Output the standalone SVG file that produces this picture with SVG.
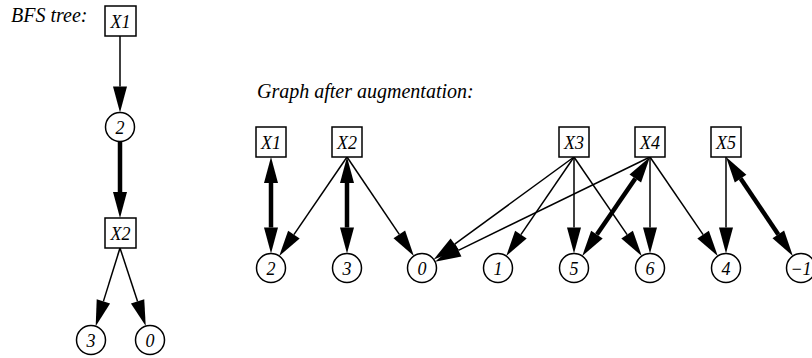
<svg xmlns="http://www.w3.org/2000/svg" width="812" height="358" viewBox="0 0 812 358">
<style>
.box{fill:#fff;stroke:#000;stroke-width:1.5}
.cir{fill:#fff;stroke:#000;stroke-width:1.5}
.lbl{font-family:"Liberation Serif","Times New Roman",Times,serif;font-style:italic;font-size:18px;text-anchor:middle}
.title{font-family:"Liberation Serif","Times New Roman",Times,serif;font-style:italic;font-size:20px}
.thin{stroke:#000;stroke-width:1.5;fill:none;marker-end:url(#ah)}
.thick{stroke:#000;stroke-width:4.5;fill:none;marker-end:url(#ah)}
.both{marker-start:url(#ah)}
</style>
<defs>
<marker id="ah" markerUnits="userSpaceOnUse" markerWidth="27" markerHeight="15" refX="0" refY="7" orient="auto-start-reverse" viewBox="0 0 27 14" overflow="visible">
<path d="M0,0 L26,7 L0,14 Z" fill="#000"/>
</marker>
</defs>
<text class="title" x="11" y="22">BFS tree:</text>
<text class="title" x="257" y="98">Graph after augmentation:</text>
<g id="connectors">
<line class="thin" x1="120" y1="36" x2="120" y2="86.5"/>
<line class="thick" x1="120" y1="141.5" x2="120" y2="192"/>
<line class="thin" x1="120" y1="248" x2="103.4" y2="301.4"/>
<line class="thin" x1="120" y1="248" x2="137.6" y2="301.4"/>
<line class="thick both" x1="271" y1="183" x2="271" y2="227.5"/>
<line class="thin" x1="347" y1="157" x2="293.9" y2="234.6"/>
<line class="thick both" x1="347" y1="183" x2="347" y2="227.5"/>
<line class="thin" x1="347" y1="157" x2="399.3" y2="234.4"/>
<line class="thin" x1="574" y1="157" x2="454.7" y2="244.1"/>
<line class="thin" x1="574" y1="157" x2="520.9" y2="234.6"/>
<line class="thin" x1="574" y1="157" x2="574" y2="227.5"/>
<line class="thin" x1="574" y1="157" x2="627.1" y2="234.6"/>
<line class="thin" x1="650" y1="157" x2="458.4" y2="250.3"/>
<line class="thick both" x1="635.3" y1="178.5" x2="596.9" y2="234.6"/>
<line class="thin" x1="650" y1="157" x2="650" y2="227.5"/>
<line class="thin" x1="650" y1="157" x2="703.1" y2="234.6"/>
<line class="thin" x1="726" y1="157" x2="726" y2="227.5"/>
<line class="thick both" x1="740.6" y1="178.6" x2="778.3" y2="234.4"/>
</g>
<g id="t-X1"><rect class="box" x="105" y="6" width="31" height="30"/><text class="lbl" x="120.5" y="27.5">X1</text></g>
<g id="t-2"><circle class="cir" cx="120" cy="127" r="14.5"/><text class="lbl" x="120" y="133.5">2</text></g>
<g id="t-X2"><rect class="box" x="105" y="218" width="31" height="30"/><text class="lbl" x="120.5" y="239.5">X2</text></g>
<g id="t-3"><circle class="cir" cx="91" cy="340" r="14.5"/><text class="lbl" x="91" y="346.5">3</text></g>
<g id="t-0"><circle class="cir" cx="150" cy="340" r="14.5"/><text class="lbl" x="150" y="346.5">0</text></g>
<g id="X1"><rect class="box" x="256" y="127" width="30" height="30"/><text class="lbl" x="271" y="148.5">X1</text></g>
<g id="X2"><rect class="box" x="332" y="127" width="30" height="30"/><text class="lbl" x="347" y="148.5">X2</text></g>
<g id="X3"><rect class="box" x="559" y="127" width="30" height="30"/><text class="lbl" x="574" y="148.5">X3</text></g>
<g id="X4"><rect class="box" x="635" y="127" width="30" height="30"/><text class="lbl" x="650" y="148.5">X4</text></g>
<g id="X5"><rect class="box" x="711" y="127" width="30" height="30"/><text class="lbl" x="726" y="148.5">X5</text></g>
<g id="n2"><circle class="cir" cx="271" cy="268" r="14.5"/><text class="lbl" x="271" y="274.5">2</text></g>
<g id="n3"><circle class="cir" cx="347" cy="268" r="14.5"/><text class="lbl" x="347" y="274.5">3</text></g>
<g id="n0"><circle class="cir" cx="422" cy="268" r="14.5"/><text class="lbl" x="422" y="274.5">0</text></g>
<g id="n1"><circle class="cir" cx="498" cy="268" r="14.5"/><text class="lbl" x="498" y="274.5">1</text></g>
<g id="n5"><circle class="cir" cx="574" cy="268" r="14.5"/><text class="lbl" x="574" y="274.5">5</text></g>
<g id="n6"><circle class="cir" cx="650" cy="268" r="14.5"/><text class="lbl" x="650" y="274.5">6</text></g>
<g id="n4"><circle class="cir" cx="726" cy="268" r="14.5"/><text class="lbl" x="726" y="274.5">4</text></g>
<g id="nm1"><circle class="cir" cx="801" cy="268" r="14.5"/><text class="lbl" x="801" y="274.5">−1</text></g>
</svg>
